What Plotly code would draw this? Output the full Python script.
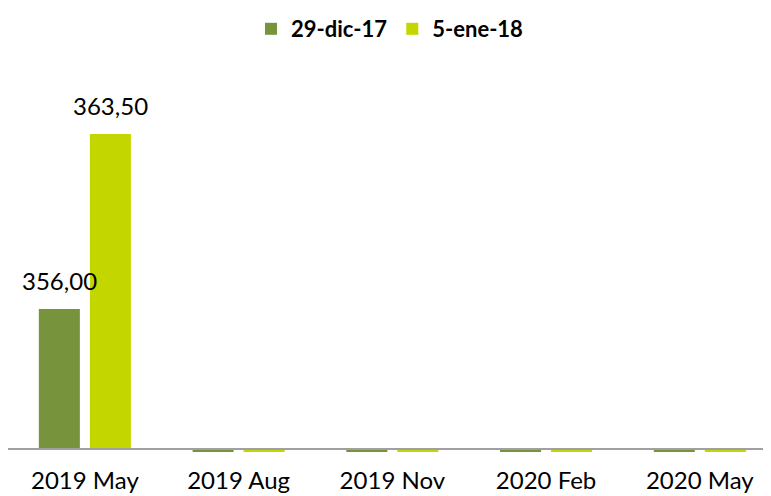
import plotly.graph_objects as go

categories = ["2019 May", "2019 Aug", "2019 Nov", "2020 Feb", "2020 May"]
series_names = ["29-dic-17", "5-ene-18"]
values_dic17 = [356.00, 0, 0, 0, 0]
values_ene18 = [363.50, 0, 0, 0, 0]
colors = ["#77933C", "#C4D600"]
axis_cross = 350
FONT = "Lato, sans-serif"

def fmt(v):
    return ("%.2f" % v).replace(".", ",")

fig = go.Figure()
series = [values_dic17, values_ene18]
for name, vals, col in zip(series_names, series, colors):
    fig.add_trace(go.Bar(
        name=name, x=categories, y=[v - axis_cross for v in vals], base=axis_cross,
        marker=dict(color=col, line=dict(width=0)),
    ))

# value labels above the bars
shifts = [-25.5, 25.5]
for vals, xs in zip(series, shifts):
    for cat, v in zip(categories, vals):
        if v:
            fig.add_annotation(x=cat, y=v, text=fmt(v), showarrow=False,
                               xanchor="center", yanchor="bottom", xshift=xs, yshift=12,
                               font=dict(size=24, color="#000000", family=FONT))

fig.add_hline(y=axis_cross, line=dict(color="#A0A0A0", width=2))

fig.update_layout(
    width=763, height=488,
    margin=dict(l=0, r=0, t=42, b=44, autoexpand=False),
    paper_bgcolor="white", plot_bgcolor="white",
    barmode="group", bargap=0.336, bargroupgap=0.196,
    font=dict(family=FONT, size=24, color="#000000"),
    legend=dict(orientation="h", x=0.5, xanchor="center", y=1.0, yref="container", yanchor="top",
                font=dict(size=22, family=FONT, weight="bold"),
                itemwidth=30, traceorder="normal"),
    showlegend=True,
)
fig.update_xaxes(range=[-0.5, 4.463], showgrid=False, showline=False, ticks="",
                 tickfont=dict(size=24), ticklabelstandoff=12, automargin=False)
fig.update_yaxes(range=[349.87, 367.1], showgrid=False, showticklabels=False,
                 zeroline=False, showline=False, automargin=False)

fig.write_html("out.html")
